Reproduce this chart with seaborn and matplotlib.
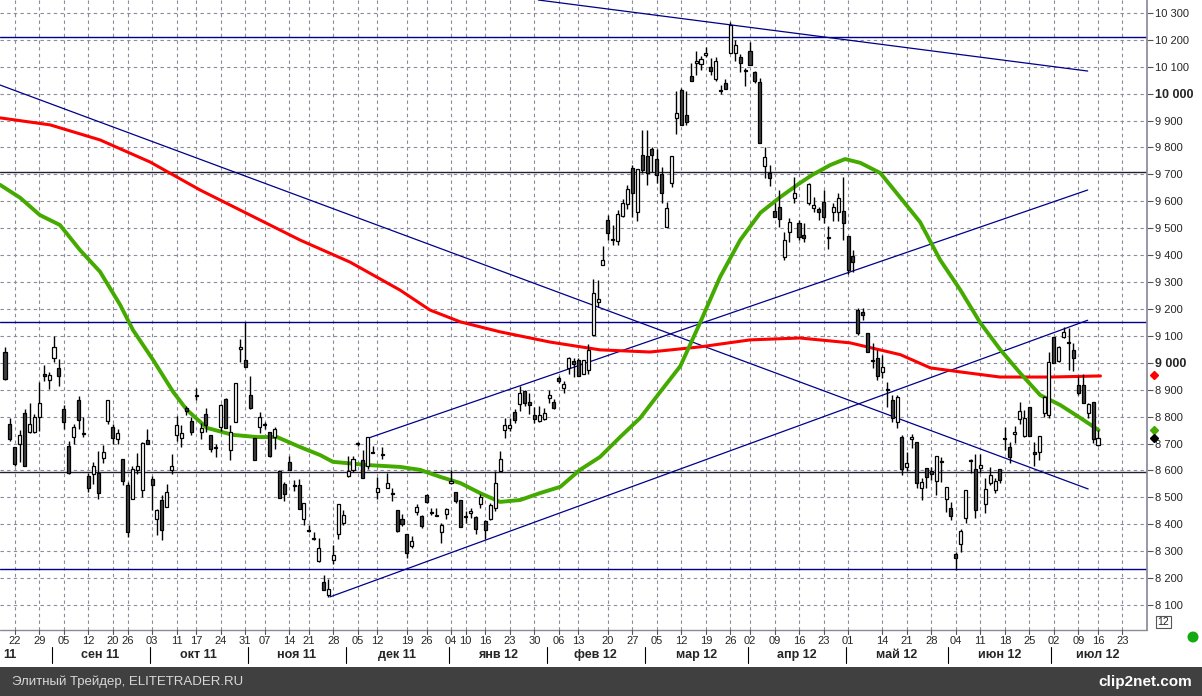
import matplotlib
matplotlib.use("Agg")
import matplotlib.pyplot as plt
import seaborn as sns
import pandas as pd
from matplotlib.patches import Rectangle, Ellipse

# daily OHLC, one value per trading day
opens = [9041, 8773, 8686, 8699, 8812, 8744, 8744, 8800, 8958, 8937, 9016, 8979, 8828, 8690, 8723, 8862, 8738, 8581, 8587, 8590,
         8645, 8783, 8760, 8715, 8641, 8544, 8492, 8600, 8526, 8713, 8569, 8421, 8489, 8464, 8600, 8730, 8720, 8832, 8785, 8880,
         8742, 8810, 8732, 8685, 8760, 8866, 8674, 8779, 9051, 9010, 8880, 8720, 8760, 8773, 8742, 8723, 8596, 8550, 8631, 8545,
         8545, 8418, 8376, 8347, 8263, 8186, 8137, 8266, 8365, 8406, 8578, 8600, 8700, 8640, 8617, 8667, 8519, 8660, 8534, 8514,
         8452,
         8418, 8364, 8319, 8445, 8430, 8508, 8445, 8430, 8372, 8439, 8554, 8519, 8490, 8428, 8442, 8426, 8476, 8412, 8421, 8459,
         8597, 8752, 8756, 8818, 8845, 8895, 8855, 8805, 8783, 8790, 8870, 8855, 8942, 8905, 8979, 9006, 9012, 8959,
         8973, 9103, 9227, 9363, 9531, 9457, 9454, 9547, 9590, 9723, 9562, 9772, 9768, 9793, 9756, 9701, 9506, 9669, 9908, 10014,
         9921, 10066, 10113, 10109, 10144, 10098, 10053, 10012, 10038, 10150, 10152, 10135, 10086, 10160, 10079, 10045, 9733, 9707,
         9564, 9580, 9394, 9485, 9611, 9518, 9475, 9593, 9574, 9570,
         9599, 9466, 9559, 9559, 9564, 9471, 9397, 9196, 9188, 9112, 9008, 9017, 8967, 8902, 8862, 8781, 8723, 8612, 8717, 8707,
         8534, 8610, 8599, 8562, 8631, 8493, 8459, 8290, 8326, 8422, 8637, 8604, 8608, 8475, 8552, 8528, 8606, 8720, 8686, 8736,
         8790, 8728, 8835, 8668, 8670, 8812, 8806, 9097, 9008, 9097, 9076, 9048, 8918, 8918, 8812, 8853, 8695]
highs = [9060, 8794, 8686, 8750, 8830, 8850, 8810, 8927, 8990, 8967, 9100, 9013, 8843, 8710, 8773, 8875, 8800, 8591, 8633, 8673,
         8695, 8863, 8773, 8754, 8641, 8557, 8616, 8663, 8707, 8754, 8579, 8458, 8507, 8550, 8662, 8804, 8767, 8838, 8797, 8908,
         8775, 8832, 8732, 8700, 8847, 8869, 8769, 8924, 9088, 9150, 8950, 8720, 8816, 8779, 8742, 8760, 8600, 8557, 8653, 8563,
         8569, 8480, 8396, 8370, 8349, 8210, 8196, 8322, 8477, 8452, 8655, 8655, 8707, 8677, 8723, 8690, 8575, 8686, 8591, 8534,
         8452,
         8437, 8364, 8356, 8476, 8436, 8514, 8460, 8460, 8405, 8461, 8600, 8519, 8490, 8449, 8461, 8430, 8511, 8414, 8480, 8597,
         8672, 8796, 8796, 8827, 8913, 8897, 8888, 8835, 8839, 8833, 8897, 8864, 8950, 8932, 9021, 9019, 9019, 9012,
         9070, 9311, 9308, 9434, 9549, 9512, 9568, 9607, 9661, 9735, 9719, 9865, 9865, 9803, 9793, 9729, 9599, 9768, 10008, 10020,
         10011, 10113, 10160, 10140, 10172, 10131, 10135, 10032, 10053, 10265, 10200, 10147, 10094, 10193, 10086, 10057, 9803, 9735,
         9595, 9642, 9487, 9537, 9689, 9531, 9518, 9667, 9615, 9580,
         9642, 9509, 9593, 9630, 9692, 9471, 9419, 9203, 9203, 9112, 9073, 9048, 9029, 8928, 8881, 8881, 8732, 8670, 8736, 8707,
         8571, 8610, 8614, 8654, 8651, 8537, 8484, 8298, 8383, 8528, 8641, 8661, 8661, 8571, 8612, 8571, 8606, 8763, 8707, 8765,
         8853, 8825, 8837, 8707, 8728, 8877, 9039, 9097, 9063, 9132, 9128, 9075, 8949, 8959, 8850, 8856, 8751]
lows = [8935, 8711, 8618, 8630, 8618, 8740, 8740, 8748, 8933, 8902, 9001, 8912, 8754, 8585, 8699, 8754, 8723, 8519, 8550, 8494,
        8628, 8773, 8699, 8699, 8544, 8353, 8492, 8587, 8501, 8697, 8452, 8359, 8340, 8464, 8587, 8711, 8686, 8807, 8730, 8860,
        8718, 8742, 8668, 8650, 8748, 8757, 8640, 8779, 9001, 8986, 8828, 8640, 8740, 8754, 8650, 8680, 8497, 8488, 8600, 8525,
        8458, 8396, 8370, 8340, 8260, 8155, 8130, 8254, 8347, 8396, 8576, 8594, 8690, 8573, 8604, 8665, 8492, 8643, 8534, 8485,
        8372,
        8393, 8273, 8312, 8436, 8387, 8480, 8436, 8430, 8331, 8418, 8548, 8480, 8390, 8405, 8424, 8362, 8459, 8346, 8414, 8449,
        8597, 8721, 8746, 8777, 8820, 8839, 8810, 8777, 8780, 8789, 8851, 8827, 8926, 8889, 8959, 8947, 8950, 8957,
        8960, 9100, 9209, 9363, 9456, 9438, 9438, 9543, 9570, 9543, 9525, 9704, 9661, 9710, 9667, 9595, 9506, 9654, 9850, 9884,
        9884, 10048, 10070, 10088, 10135, 10070, 10048, 9998, 10016, 10150, 10123, 10082, 10029, 10107, 10038, 9818, 9685, 9655,
        9543, 9506, 9382, 9450, 9592, 9456, 9450, 9586, 9561, 9531,
        9518, 9422, 9525, 9525, 9457, 9330, 9339, 9104, 9159, 9039, 8980, 8936, 8943, 8837, 8781, 8757, 8583, 8599, 8682, 8534,
        8490, 8534, 8565, 8509, 8558, 8447, 8414, 8230, 8298, 8406, 8592, 8422, 8590, 8443, 8546, 8515, 8552, 8676, 8627, 8703,
        8773, 8726, 8728, 8617, 8639, 8800, 8794, 8998, 9004, 9091, 8973, 8971, 8881, 8850, 8794, 8703, 8689]
closes = [8940, 8717, 8625, 8730, 8618, 8773, 8797, 8850, 8952, 8954, 9060, 8950, 8781, 8591, 8760, 8789, 8735, 8534, 8618, 8516,
          8668, 8863, 8720, 8740, 8560, 8371, 8606, 8616, 8701, 8697, 8544, 8452, 8380, 8520, 8615, 8770, 8740, 8822, 8744, 8878,
          8758, 8770, 8678, 8683, 8843, 8757, 8744, 8924, 9057, 8986, 8832, 8640, 8800, 8769, 8652, 8754, 8497, 8513, 8600, 8543,
          8458, 8480, 8375, 8346, 8312, 8155, 8161, 8285, 8477, 8433, 8597, 8643, 8698, 8573, 8723, 8665, 8534, 8656, 8554, 8512,
          8374,
          8402, 8294, 8337, 8463, 8395, 8482, 8443, 8429, 8399, 8455, 8562, 8488, 8390, 8426, 8449, 8384, 8501, 8377, 8470, 8554,
          8643, 8768, 8768, 8787, 8888, 8851, 8843, 8792, 8805, 8813, 8880, 8833, 8932, 8920, 9016, 8997, 8950, 9009,
          9047, 9258, 9236, 9382, 9481, 9456, 9553, 9595, 9645, 9630, 9719, 9716, 9704, 9772, 9698, 9632, 9574, 9768, 9927, 9884,
          9896, 10048, 10121, 10128, 10152, 10085, 10123, 10011, 10016, 10255, 10181, 10113, 10085, 10107, 10048, 9818, 9764, 9686,
          9543, 9533, 9456, 9522, 9632, 9466, 9463, 9664, 9586, 9561,
          9540, 9465, 9577, 9611, 9518, 9345, 9376, 9112, 9176, 9039, 9006, 8949, 8983, 8900, 8794, 8872, 8604, 8627, 8726, 8552,
          8556, 8575, 8587, 8654, 8630, 8537, 8432, 8274, 8375, 8528, 8636, 8453, 8620, 8530, 8582, 8562, 8565, 8718, 8649, 8744,
          8819, 8794, 8728, 8661, 8728, 8872, 9002, 8998, 9060, 9116, 9075, 9017, 8889, 8852, 8846, 8716, 8720]

# week labels (first trading day of each week) and their trading-day index
week_labels = ["22", "29", "05", "12", "20", "26", "03", "11", "17", "24", "31", "07", "14", "21", "28", "05", "12", "19",
               "26", "04", "10", "16", "23", "30", "06", "13", "20", "27", "05", "12", "19", "26", "02", "09", "16", "23",
               "01", "14", "21", "28", "04", "11", "18", "25", "02", "09", "16", "23"]
week_idx = [2, 7, 12, 17, 22, 25, 30, 35, 39, 44, 49, 53, 58, 62, 67, 72, 76, 82, 86, 91, 94, 98, 103, 108, 113, 117,
            123, 128, 133, 138, 143, 148, 152, 157, 162, 167, 172, 179, 184, 189, 194, 199, 204, 209, 214, 219, 223, 228]
month_labels = ["11", "сен 11", "окт 11", "ноя 11", "дек 11", "янв 12", "фев 12", "мар 12", "апр 12", "май 12", "июн 12", "июл 12"]
month_start = [-1.5, 9.5, 29.5, 49.5, 69.5, 90.5, 110.5, 130.5, 151.5, 171.5, 192.5, 213.5]

# moving averages (index, value)
red_idx = [-1, 9.2, 19.4, 29.6, 39.8, 50, 60.2, 70.4, 80.6, 86.7, 92.9, 101, 111.2, 121.4, 131.6, 141.8, 152, 162.2,
           172.4, 182.7, 188.8, 194.9, 203, 213.3, 223.5]
red_val = [9910, 9884, 9828, 9746, 9642, 9549, 9456, 9374, 9270, 9196, 9152, 9115, 9077, 9048, 9040, 9059, 9085, 9092,
           9074, 9030, 8981, 8966, 8947, 8947, 8951]
green_idx = [-1, 3.1, 7.1, 11.2, 15.3, 19.4, 23.5, 26.1, 30.2, 34.3, 37.1, 41.2, 46.5, 51.4, 55.5, 60.2, 64.3, 66.9,
             73.9, 80.6, 84.7, 88.8, 92.9, 96.9, 101, 105.1, 109.2, 113.3, 117.3, 121.4, 125.5, 129.6, 133.7, 137.8,
             141.8, 145.9, 150, 154.1, 158.2, 162.2, 164.7, 168.4, 171.4, 174.5, 178.6, 182.7, 186.7, 190.8, 194.9,
             199, 203.1, 207.1, 211.2, 215.3, 219.4, 223.1]
green_val = [9661, 9613, 9549, 9512, 9419, 9338, 9215, 9122, 9011, 8892, 8825, 8758, 8732, 8724, 8724, 8687, 8657, 8632,
             8620, 8613, 8602, 8576, 8553, 8516, 8483, 8490, 8516, 8539, 8602, 8650, 8724, 8795, 8892, 8988,
             9148, 9319, 9456, 9557, 9616, 9668, 9698, 9735, 9757, 9743, 9705, 9613, 9523, 9382, 9271,
             9148, 9048, 8962, 8880, 8843, 8795, 8750]

# drawn levels and trend lines
levels = [10210, 9153, 8233]
dark_levels = [9710, 8595]
trend_lines = [((108.8, 10348), (220.9, 10084)),
               ((-1.0, 10032), (221.0, 8531)),
               ((74.1, 8720), (220.9, 9642)),
               ((66.3, 8130), (220.9, 9158))]

W, H = 1202, 696
sns.set_theme(style="white")
plt.rcParams["font.family"] = ["Liberation Sans", "DejaVu Sans"]
fig = plt.figure(figsize=(W / 100, H / 100), dpi=100)
ax = fig.add_axes([0, (H - 630) / H, 1147 / W, 630 / H])

df = pd.DataFrame({"o": opens, "h": highs, "l": lows, "c": closes})
df["i"] = range(len(df))
x_lo, x_hi = -1.02, 233.0
y_lo, y_hi = 8007, 10348
ax.set_xlim(x_lo, x_hi)
ax.set_ylim(y_lo, y_hi)

# grid
for xi in week_idx:
    ax.axvline(xi, color="#8a8a9a", lw=0.8, ls=(0, (3, 3)), zorder=0)
for v in range(8100, 10400, 100):
    ax.axhline(v, color="#8a8a9a", lw=0.8, ls=(0, (3, 3)), zorder=0)

for v in levels:
    ax.axhline(v, color="#00008b", lw=1.0, zorder=2)
for v in dark_levels:
    ax.axhline(v, color="#202030", lw=1.0, zorder=2)
for (x1, y1), (x2, y2) in trend_lines:
    ax.plot([x1, x2], [y1, y2], color="#00008b", lw=0.9, zorder=2)

# moving averages
sns.lineplot(x=red_idx, y=red_val, color="#ff0000", lw=2.2, ax=ax, zorder=3)
sns.lineplot(x=green_idx, y=green_val, color="#44aa00", lw=2.8, ax=ax, zorder=3)

# candles
ax.vlines(df["i"], df["l"], df["h"], color="black", lw=1.0, zorder=4)
up = df["c"] >= df["o"]
body_lo = df[["o", "c"]].min(axis=1)
body_h = (df["c"] - df["o"]).abs().clip(lower=4)
ax.bar(df["i"][up], body_h[up], bottom=body_lo[up], width=0.62, color="white", edgecolor="black", lw=0.9, zorder=5)
ax.bar(df["i"][~up], body_h[~up], bottom=body_lo[~up], width=0.62, color="#404040", edgecolor="black", lw=0.9, zorder=5)

# axes styling
for s in ["top", "left", "bottom"]:
    ax.spines[s].set_visible(False)
ax.spines["right"].set_color("#8a8a9a")
ax.set_xticks([])
ax.yaxis.tick_right()
ax.set_yticks(list(range(8100, 10400, 100)))
ax.set_yticklabels([f"{v:,}".replace(",", " ") for v in range(8100, 10400, 100)], fontsize=8)
for t, v in zip(ax.get_yticklabels(), range(8100, 10400, 100)):
    if v % 1000 == 0:
        t.set_fontweight("bold")
        t.set_fontsize(9)
ax.tick_params(axis="y", length=4, width=0.8, color="#555555", pad=2)
ax.set_xlabel("")
ax.set_ylabel("")

# bottom axis line, ticks and labels
def fx(i):
    return (i - x_lo) / (x_hi - x_lo) * 1147 / W

ax_y0 = (H - 630) / H
fig.add_artist(plt.Line2D([0, 1147 / W], [ax_y0, ax_y0], color="#8a8a9a", lw=1))
for lab, i in zip(week_labels, week_idx):
    fig.add_artist(plt.Line2D([fx(i), fx(i)], [ax_y0, ax_y0 - 4 / H], color="#555555", lw=0.8))
    fig.text(fx(i), (H - 641) / H, lab, ha="center", va="center", fontsize=8)
bounds = month_start + [x_hi + 1]
for k, lab in enumerate(month_labels):
    if k > 0:
        xs = fx(month_start[k])
        fig.add_artist(plt.Line2D([xs, xs], [(H - 647) / H, (H - 663) / H], color="black", lw=0.8))
    if k == 0:
        fig.text(3 / W, (H - 655) / H, lab, ha="left", va="center", fontsize=9, fontweight="bold")
    else:
        mid = (bounds[k] + min(bounds[k + 1], 232.5)) / 2
        if k == len(month_labels) - 1:
            mid = 223
        fig.text(fx(mid), (H - 655) / H, lab, ha="center", va="center", fontsize=9, fontweight="bold")

# last-value markers
ax.plot([234.4], [8955], marker="D", color="#ff0000", ms=4.5, clip_on=False)
ax.plot([234.4], [8750], marker="D", color="#44aa00", ms=4.5, clip_on=False)
ax.plot([234.4], [8720], marker="D", color="black", ms=4.5, clip_on=False)

# small period box and status dot
fig.patches.append(Rectangle((1156 / W, (H - 628) / H), 15 / W, 12 / H, transform=fig.transFigure,
                             facecolor="white", edgecolor="#555555", lw=0.8))
fig.text(1163.5 / W, (H - 622) / H, "12", ha="center", va="center", fontsize=7.5)
fig.patches.append(Ellipse((1193 / W, (H - 637) / H), 11 / W, 11 / H, transform=fig.transFigure,
                           facecolor="#11aa11", edgecolor="none"))

# footer band
fig.patches.append(Rectangle((0, 0), 1, 29 / H, transform=fig.transFigure, facecolor="#404040", edgecolor="none"))
fig.text(12 / W, 14 / H, "Элитный Трейдер, ELITETRADER.RU", color="#d8d8d8", fontsize=9.5, va="center")
fig.text(1192 / W, 14 / H, "clip2net.com", color="white", fontsize=11, fontweight="bold", va="center", ha="right")

fig.savefig("out.png", dpi=100)
